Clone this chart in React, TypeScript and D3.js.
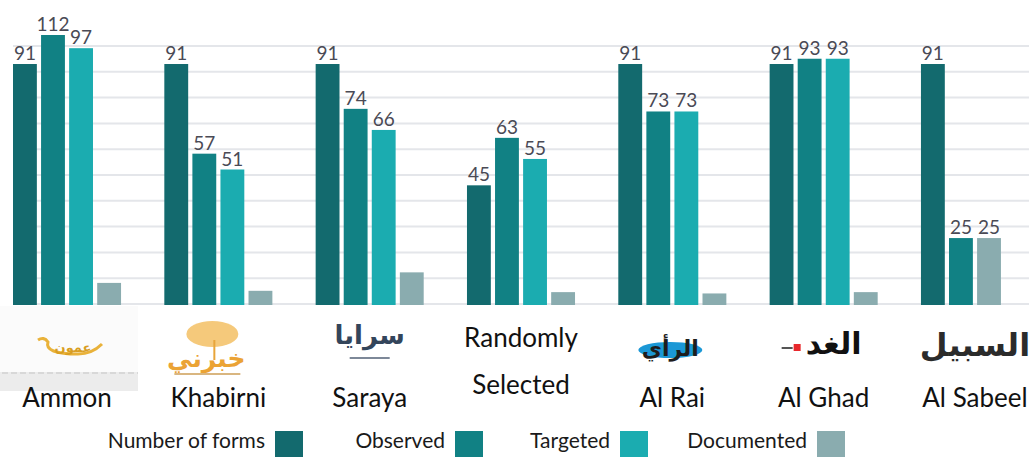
import * as d3 from 'd3';
import { useEffect } from 'react';

// outlets along the x axis
const outlets = ['Ammon', 'Khabirni', 'Saraya', 'Randomly Selected', 'Al Rai', 'Al Ghad', 'Al Sabeel'];
const seriesNames = ['Number of forms', 'Observed', 'Targeted', 'Documented'];
const seriesColors = ['#136a6e', '#118184', '#1bacb0', '#8aacaf'];

// values per series (null = no bar)
const numberOfForms = [91, 91, 91, 45, 91, 91, 91];
const observed = [112, 57, 74, 63, 73, 93, 25];
const targeted = [97, 51, 66, 55, 73, 93, null];
const documented = [8, 5, 12, 4.5, 4, 4.5, 25];
// documented bars only carry a number for Al Sabeel
const documentedLabelled = [false, false, false, false, false, false, true];

// arabic logo words under each outlet (Randomly Selected has none)
const logoWords = ['عمون', 'خبرني', 'سرايا', '', 'الرأي', 'الغد', 'السبيل'];

export default function App() {
  useEffect(() => {
    document.body.style.margin = '0';
  }, []);

  const width = 1033;
  const height = 457;
  const baseY = 304;
  const left = 13;
  const right = 1029;

  const series = [numberOfForms, observed, targeted, documented];

  const xScale = d3.scaleBand<string>()
    .domain(outlets)
    .range([left, right])
    .paddingInner(0.286)
    .paddingOuter(0);

  const innerScale = d3.scaleBand<number>()
    .domain([0, 1, 2, 3])
    .range([0, xScale.bandwidth()])
    .paddingInner(0.15);

  // 112 runs past the frame in the original, so clamp it
  const yScale = d3.scaleLinear().domain([0, 102]).range([baseY, 35]).clamp(true);

  // 10 equal gridline steps from the baseline up
  const gridScale = d3.scaleLinear().domain([0, 10]).range([baseY, 46]);

  // build bars, skipping missing series so the rest close up
  const bars: { key: string; x: number; y: number; w: number; h: number; color: string; v: number; label: boolean }[] = [];
  outlets.forEach((o, i) => {
    const present = series.map((s, si) => si).filter(si => series[si][i] !== null);
    present.forEach((si, pos) => {
      const v = series[si][i] as number;
      const x = (xScale(o) as number) + (innerScale(pos) as number);
      bars.push({
        key: `${o}-${si}`,
        x,
        y: yScale(v),
        w: innerScale.bandwidth(),
        h: baseY - yScale(v),
        color: seriesColors[si],
        v,
        label: si < 3 || documentedLabelled[i],
      });
    });
  });

  const center = (o: string) => (xScale(o) as number) + xScale.bandwidth() / 2;

  const legendSwatchX = [275, 455, 620, 817];

  return (
    <svg width={width} height={height} style={{ display: 'block', background: '#fff' }}
      fontFamily="Lato, 'Open Sans', sans-serif">
      {/* grid */}
      {d3.range(11).map(k => (
        <line key={k} x1={left} x2={right} y1={gridScale(k)} y2={gridScale(k)}
          stroke="#e4e6ea" strokeWidth={2} />
      ))}

      {/* bars */}
      {bars.map(b => (
        <rect key={b.key} x={b.x} y={b.y} width={b.w} height={b.h + 1} fill={b.color} />
      ))}
      {bars.filter(b => b.label).map(b => (
        <text key={b.key + 't'} x={b.x + b.w / 2} y={b.y - 4} textAnchor="middle"
          fontSize={19} fill="#4a4a55">{b.v}</text>
      ))}

      {/* logo placeholders */}
      <g>
        <rect x={0} y={306} width={138} height={66} fill="#fbfbfb" />
        <rect x={0} y={372} width={138} height={19} fill="#ececec" />
        <line x1={2} x2={138} y1={373} y2={373} stroke="#c4c4c4" strokeDasharray="6 3" />
        <path d="M38,340 q6,-4 10,2 q-4,12 30,12 q14,0 24,-10" fill="none" stroke="#e9b23a" strokeWidth={3} />
        <text x={center('Ammon') + 6} y={352} textAnchor="middle" fontFamily="DejaVu Sans" fontWeight="bold"
          fontSize={13} fill="#d99e22">{logoWords[0]}</text>

        <ellipse cx={center('Khabirni') - 6} cy={334} rx={26} ry={13} fill="#f2bb5a" opacity={0.8} />
        <line x1={center('Khabirni') - 4} x2={center('Khabirni') - 4} y1={340} y2={360} stroke="#e8a53a" strokeWidth={2} />
        <text x={center('Khabirni') - 12} y={367} textAnchor="middle" fontFamily="DejaVu Sans" fontWeight="bold"
          fontSize={25} fill="#eba335">{logoWords[1]}</text>
        <rect x={center('Khabirni') - 44} y={373} width={66} height={2} fill="#d9b680" />

        <text x={center('Saraya')} y={344} textAnchor="middle" fontFamily="DejaVu Sans" fontWeight="bold"
          fontSize={26} fill="#33455b">{logoWords[2]}</text>
        <rect x={center('Saraya') - 20} y={357} width={40} height={2} fill="#7d8898" />

        <ellipse cx={center('Al Rai') - 2} cy={350} rx={32} ry={8} fill="#1b98d6" />
        <text x={center('Al Rai') - 2} y={356} textAnchor="middle" fontFamily="DejaVu Sans" fontWeight="bold"
          fontSize={22} fill="#1d1d1d">{logoWords[4]}</text>

        <text x={center('Al Ghad') + 10} y={354} textAnchor="middle" fontFamily="DejaVu Sans" fontWeight="bold"
          fontSize={30} fill="#111">{logoWords[5]}</text>
        <rect x={center('Al Ghad') - 30} y={344} width={7} height={7} fill="#e8282c" />
        <rect x={center('Al Ghad') - 42} y={347} width={11} height={2} fill="#555" />

        <text x={center('Al Sabeel')} y={356} textAnchor="middle" fontFamily="DejaVu Sans" fontWeight="bold"
          fontSize={32} fill="#2b2b2b">{logoWords[6]}</text>
      </g>

      {/* category names */}
      {outlets.map(o => o === 'Randomly Selected' ? (
        <g key={o}>
          <text x={center(o)} y={347} textAnchor="middle" fontSize={26} fill="#111">Randomly</text>
          <text x={center(o)} y={394} textAnchor="middle" fontSize={26} fill="#111">Selected</text>
        </g>
      ) : (
        <text key={o} x={center(o)} y={407} textAnchor="middle" fontSize={26} fill="#111">{o}</text>
      ))}

      {/* legend */}
      {seriesNames.map((s, i) => (
        <g key={s}>
          <text x={legendSwatchX[i] - 10} y={448} textAnchor="end" fontSize={21} fill="#1a1a1a">{s}</text>
          <rect x={legendSwatchX[i]} y={431} width={28} height={26} fill={seriesColors[i]} />
        </g>
      ))}
    </svg>
  );
}
